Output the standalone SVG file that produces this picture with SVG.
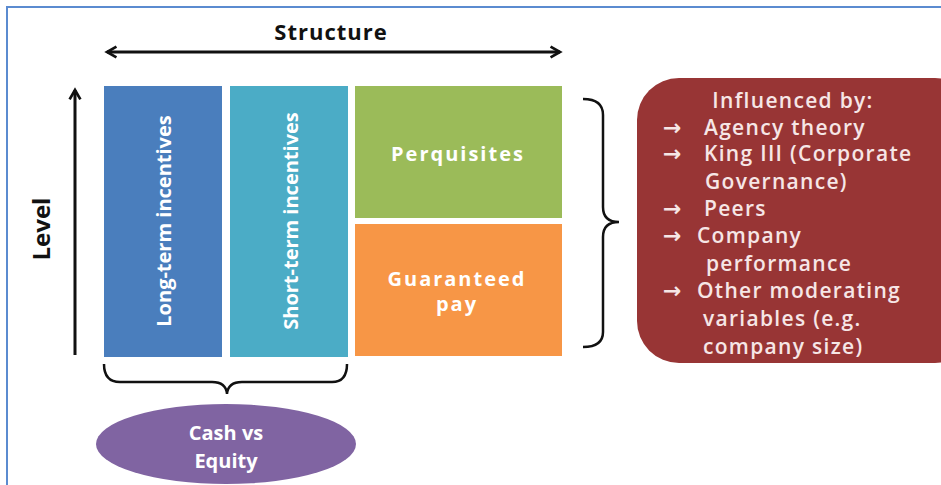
<svg xmlns="http://www.w3.org/2000/svg" width="941" height="485" viewBox="0 0 941 485">
<style>
.lbl{font-family:"Open Sans","Liberation Sans",sans-serif;font-weight:700;fill:#fff;text-anchor:middle;dominant-baseline:central}
.ax{font-family:"Open Sans","Liberation Sans",sans-serif;font-weight:700;fill:#111;text-anchor:middle;dominant-baseline:central}
.inf{font-family:"Open Sans","Liberation Sans",sans-serif;font-weight:600;fill:#f6e6e6;font-size:21px;letter-spacing:1.3px;dominant-baseline:central}
.arr{font-family:"DejaVu Sans",sans-serif;font-weight:700;fill:#f6e6e6;font-size:22px;dominant-baseline:central}
.ln{fill:none;stroke:#111;stroke-width:3}
.br{fill:none;stroke:#111;stroke-width:2.5}
</style>
<defs>
<marker id="ah" viewBox="0 0 10 10" refX="8" refY="5" markerWidth="4.5" markerHeight="4.5" orient="auto-start-reverse" markerUnits="strokeWidth">
<path d="M1,1 L8,5 L1,9" fill="none" stroke="#111" stroke-width="2"/>
</marker>
</defs>
<rect width="941" height="485" fill="#fff"/>
<path d="M7,485 V7 H941" fill="none" stroke="#5b8bd0" stroke-width="2"/>
<g id="axes">
<text class="ax" x="331" y="31" font-size="22" letter-spacing="1">Structure</text>
<text class="ax" font-size="24" transform="translate(40,229) rotate(-90)">Level</text>
</g>
<g id="connectors">
<line class="ln" x1="107" y1="52" x2="560" y2="52" marker-start="url(#ah)" marker-end="url(#ah)"/>
<line class="ln" x1="75" y1="355" x2="75" y2="90" marker-end="url(#ah)"/>
<path class="br" d="M583,99 Q603,99 603,115 V207 Q603,222 619,222 Q603,222 603,237 V332 Q603,347 583,347"/>
<path class="br" d="M104,364 Q104,382 120,382 H212 Q226,382 227,394 Q228,382 242,382 H332 Q347,382 347,364"/>
</g>
<g id="long-term">
<rect x="104" y="86" width="118" height="271" fill="#4a7ebd"/>
<text class="lbl" font-size="20" transform="translate(163,221) rotate(-90)">Long-term incentives</text>
</g>
<g id="short-term">
<rect x="230" y="86" width="118" height="271" fill="#4bacc6"/>
<text class="lbl" font-size="20" transform="translate(290,221) rotate(-90)">Short-term incentives</text>
</g>
<g id="perquisites">
<rect x="355" y="86" width="207" height="132" fill="#9bbb59"/>
<text class="lbl" x="458" y="153" font-size="20" letter-spacing="2" fill="#f2f7e6">Perquisites</text>
</g>
<g id="guaranteed">
<rect x="355" y="224" width="207" height="132" fill="#f79646"/>
<text class="lbl" x="457" y="278" font-size="20" letter-spacing="2">Guaranteed</text>
<text class="lbl" x="457" y="303" font-size="20" letter-spacing="2">pay</text>
</g>
<g id="influenced">
<rect x="637" y="78" width="340" height="285" rx="42" fill="#983535"/>
<text class="inf" x="793" y="100" text-anchor="middle" font-weight="700">Influenced by:</text>
<text class="arr" x="663" y="127">→</text><text class="inf" x="704" y="127">Agency theory</text>
<text class="arr" x="663" y="153">→</text><text class="inf" x="704" y="153">King III (Corporate</text>
<text class="inf" x="705" y="181">Governance)</text>
<text class="arr" x="663" y="208">→</text><text class="inf" x="704" y="208">Peers</text>
<text class="arr" x="663" y="235">→</text><text class="inf" x="697" y="235">Company</text>
<text class="inf" x="706" y="263">performance</text>
<text class="arr" x="663" y="290">→</text><text class="inf" x="697" y="290">Other moderating</text>
<text class="inf" x="703" y="318">variables (e.g.</text>
<text class="inf" x="703" y="346">company size)</text>
</g>
<g id="cash-equity">
<ellipse cx="226" cy="444" rx="130" ry="40" fill="#8064a2"/>
<text class="lbl" x="226" y="432" font-size="20">Cash vs</text>
<text class="lbl" x="226" y="460" font-size="20">Equity</text>
</g>
</svg>
